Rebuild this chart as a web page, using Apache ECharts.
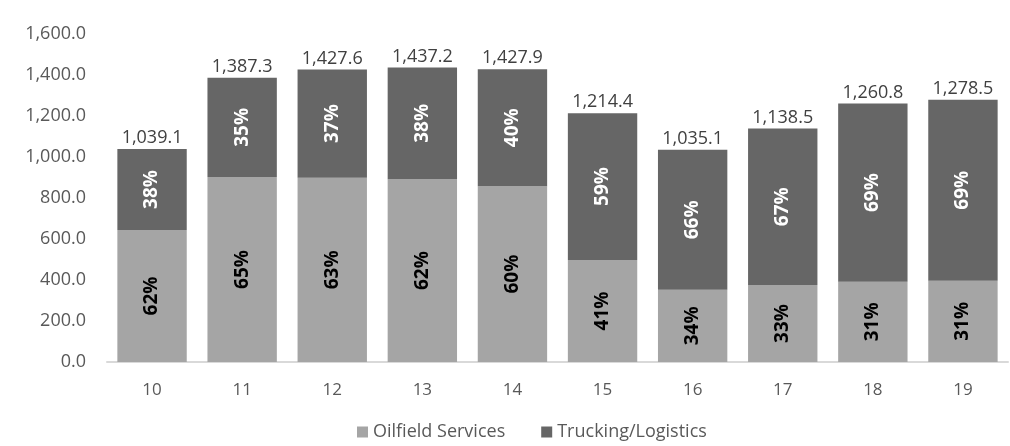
<!DOCTYPE html>
<html>
<head>
<meta charset="utf-8">
<script src="https://cdn.jsdelivr.net/npm/echarts@6/dist/echarts.min.js"></script>
<style>
  html, body { margin: 0; padding: 0; background: #fff; }
  #chart { width: 1010px; height: 446px; }
</style>
</head>
<body>
<div id="chart"></div>
<script>
// values
const categories = ['10', '11', '12', '13', '14', '15', '16', '17', '18', '19'];
const totals = [1039.1, 1387.3, 1427.6, 1437.2, 1427.9, 1214.4, 1035.1, 1138.5, 1260.8, 1278.5];
const oilfield = [644, 902, 899, 891, 857, 498, 352, 376, 391, 396];
const trucking = [395, 485, 528, 546, 571, 716, 683, 763, 870, 883];
const oilfieldPct = [62, 65, 63, 62, 60, 41, 34, 33, 31, 31];
const truckingPct = [38, 35, 37, 38, 40, 59, 66, 67, 69, 69];

const font = '"Open Sans", "Noto Sans", sans-serif';
const fmt = v => v.toLocaleString('en-US', { minimumFractionDigits: 1, maximumFractionDigits: 1 });

const chart = echarts.init(document.getElementById('chart'));

const option = {
  animation: false,
  textStyle: { fontFamily: font },
  grid: { left: 107, right: 2, top: 34, bottom: 84 },
  legend: {
    bottom: 0,
    left: 352,
    itemWidth: 11,
    itemHeight: 11,
    itemGap: 36,
    icon: 'rect',
    textStyle: { color: '#595959', fontSize: 18, fontFamily: font },
    data: ['Oilfield Services', 'Trucking/Logistics']
  },
  xAxis: {
    type: 'category',
    data: categories,
    axisLine: { lineStyle: { color: '#d9d9d9', width: 2 } },
    axisTick: { show: false },
    axisLabel: { color: '#595959', fontSize: 17, margin: 20 }
  },
  yAxis: {
    type: 'value',
    min: 0,
    max: 1600,
    interval: 200,
    splitLine: { show: false },
    axisLabel: { color: '#595959', fontSize: 18, margin: 21, formatter: v => fmt(v) }
  },
  series: [
    {
      name: 'Oilfield Services',
      type: 'bar',
      stack: 'total',
      barWidth: '77%',
      itemStyle: { color: '#a5a5a5' },
      data: oilfield,
      label: {
        show: true,
        position: 'inside',
        rotate: 90,
        color: '#000',
        fontWeight: 'bold',
        fontSize: 19,
        formatter: p => oilfieldPct[p.dataIndex] + '%'
      }
    },
    {
      name: 'Trucking/Logistics',
      type: 'bar',
      stack: 'total',
      itemStyle: { color: '#666666' },
      data: trucking,
      label: {
        show: true,
        position: 'inside',
        rotate: 90,
        color: '#fff',
        fontWeight: 'bold',
        fontSize: 19,
        formatter: p => truckingPct[p.dataIndex] + '%'
      }
    },
    {
      name: 'totals',
      type: 'bar',
      stack: 'total',
      data: categories.map(() => 0),
      itemStyle: { color: 'transparent' },
      label: {
        show: true,
        position: 'top',
        distance: 2,
        color: '#404040',
        fontSize: 18,
        formatter: p => fmt(totals[p.dataIndex])
      }
    }
  ]
};

chart.setOption(option);
</script>
</body>
</html>
